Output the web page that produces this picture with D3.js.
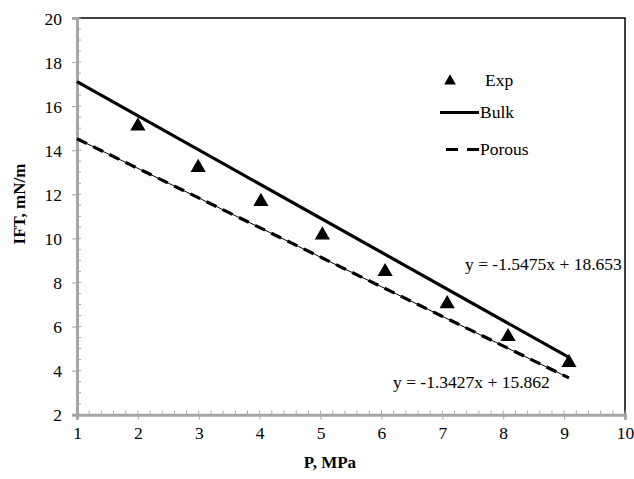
<!DOCTYPE html>
<html>
<head>
<meta charset="utf-8">
<script src="https://cdn.jsdelivr.net/npm/d3@7"></script>
<style>
  body { margin: 0; background: #fff; }
  svg text { font-family: "Liberation Serif", "Times New Roman", Times, "DejaVu Serif", serif !important; }
</style>
</head>
<body>
<div class="output"><svg width="634" height="479"></svg></div>
<script>
// data
var expP = [2.0, 2.99, 4.02, 5.03, 6.06, 7.08, 8.08, 9.08];
var expIFT = [15.10, 13.21, 11.67, 10.15, 8.49, 7.03, 5.54, 4.36];

var lineP = [1, 9.08];
var bulkIFT = [17.11, 4.60];
var porousIFT = [14.52, 3.67];

var xTicks = [1, 2, 3, 4, 5, 6, 7, 8, 9, 10];
var yTicks = [2, 4, 6, 8, 10, 12, 14, 16, 18, 20];

var bulkEq = "y = -1.5475x + 18.653";
var porousEq = "y = -1.3427x + 15.862";

var svg = d3.select("div.output svg");

//---------------------------- scales --------------------------------
var x = d3.scaleLinear().domain([1, 10]).range([77, 625]);
var y = d3.scaleLinear().domain([2, 20]).range([414.7, 18]);

// top and right frame
svg.append("path")
  .attr("d", "M" + x(1) + "," + y(20) + "H" + x(10) + "V" + y(2))
  .attr("fill", "none")
  .attr("stroke", "#000")
  .attr("stroke-width", 1.5);

//---------------------------- axes ----------------------------------
var gray = "#a6a6a6";

// minor ticks (inside)
var xMinor = d3.range(1, 10.001, 0.2);
var yMinor = d3.range(2, 20.001, 0.5);
svg.append("g").selectAll("line")
  .data(xMinor)
  .enter().append("line")
    .attr("x1", function(d){ return x(d); })
    .attr("x2", function(d){ return x(d); })
    .attr("y1", y(2))
    .attr("y2", y(2) - 4)
    .attr("stroke", gray);
svg.append("g").selectAll("line")
  .data(yMinor)
  .enter().append("line")
    .attr("x1", x(1))
    .attr("x2", x(1) + 4)
    .attr("y1", function(d){ return y(d); })
    .attr("y2", function(d){ return y(d); })
    .attr("stroke", gray);

var xAxis = svg.append("g")
  .attr("transform", "translate(0," + y(2) + ")")
  .call(d3.axisBottom(x).tickValues(xTicks).tickSize(5).tickPadding(7).tickFormat(d3.format("d")));
var yAxis = svg.append("g")
  .attr("transform", "translate(" + x(1) + ",0)")
  .call(d3.axisLeft(y).tickValues(yTicks).tickSize(5).tickPadding(10).tickFormat(d3.format("d")));

[xAxis, yAxis].forEach(function(g){
  g.attr("font-family", null);
  g.select(".domain").attr("stroke", gray).attr("stroke-width", 3);
  g.selectAll(".tick line").attr("stroke", gray);
  g.selectAll(".tick text")
    .attr("fill", "#000")
    .style("font-size", "17.5px");
});
yAxis.selectAll(".tick text").attr("dy", "0.35em");

//---------------------------- lines ---------------------------------
var fitLine = d3.line()
  .x(function(d, i){ return x(lineP[i]); })
  .y(function(d){ return y(d); });

svg.append("path")
  .datum(bulkIFT)
  .attr("d", fitLine)
  .attr("fill", "none")
  .attr("stroke", "#000")
  .attr("stroke-width", 3.2);

// porous: thin trend line under the dashed one
svg.append("path")
  .datum(porousIFT)
  .attr("d", fitLine)
  .attr("fill", "none")
  .attr("stroke", "#000")
  .attr("stroke-width", 1);
svg.append("path")
  .datum(porousIFT)
  .attr("d", fitLine)
  .attr("fill", "none")
  .attr("stroke", "#000")
  .attr("stroke-width", 3.2)
  .attr("stroke-dasharray", "11,7");

//---------------------------- points --------------------------------
var tri = d3.symbol().type(d3.symbolTriangle).size(100);
svg.append("g").selectAll("path")
  .data(expIFT)
  .enter().append("path")
    .attr("d", tri)
    .attr("transform", function(d, i){ return "translate(" + x(expP[i]) + "," + y(d) + ")"; })
    .attr("fill", "#000");

//---------------------------- legend --------------------------------
var legend = svg.append("g");
legend.append("path")
  .attr("d", d3.symbol().type(d3.symbolTriangle).size(60))
  .attr("transform", "translate(450,81)");
legend.append("line")
  .attr("x1", 440).attr("x2", 479).attr("y1", 112.5).attr("y2", 112.5)
  .attr("stroke", "#000").attr("stroke-width", 3.2);
legend.append("line")
  .attr("x1", 446).attr("x2", 479).attr("y1", 149.5).attr("y2", 149.5)
  .attr("stroke", "#000").attr("stroke-width", 3.2)
  .attr("stroke-dasharray", "12,9");
var labels = ["Exp", "Bulk", "Porous"];
var labelY = [86, 118, 155];
for (var i = 0; i < labels.length; i++){
  legend.append("text")
    .attr("x", i == 0 ? 485 : 480)
    .attr("y", labelY[i])
    .attr("font-size", "17.5px")
    .text(labels[i]);
}

//---------------------------- equations -----------------------------
svg.append("text")
  .attr("x", 465).attr("y", 270)
  .attr("font-size", "17.5px")
  .text(bulkEq);
svg.append("text")
  .attr("x", 393).attr("y", 388)
  .attr("font-size", "17.5px")
  .text(porousEq);

//---------------------------- titles --------------------------------
svg.append("text")
  .attr("x", 330).attr("y", 468)
  .attr("text-anchor", "middle")
  .attr("font-size", "17px")
  .attr("font-weight", "bold")
  .text("P, MPa");
svg.append("text")
  .attr("transform", "translate(25,204) rotate(-90)")
  .attr("text-anchor", "middle")
  .attr("font-size", "17px")
  .attr("font-weight", "bold")
  .text("IFT, mN/m");
</script>
</body>
</html>
